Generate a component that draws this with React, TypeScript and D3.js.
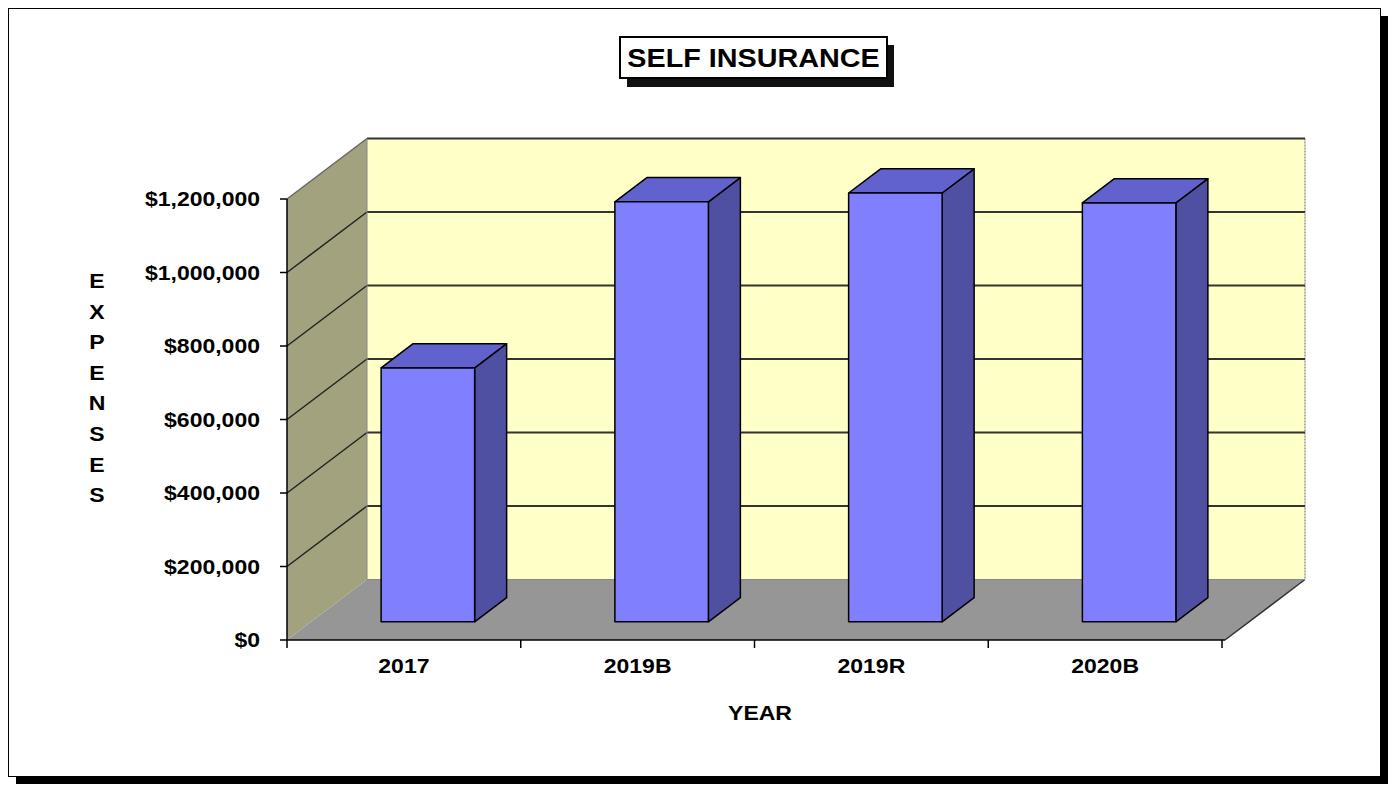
import React from "react";
import * as d3 from "d3";

const categories = ["2017", "2019B", "2019R", "2020B"];
const values = [691000, 1143000, 1167000, 1140000];
const yTicks = [0, 200000, 400000, 600000, 800000, 1000000, 1200000];
const title = "SELF INSURANCE";
const yTitle = "EXPENSES";
const xTitle = "YEAR";

const FONT = "'Liberation Sans', Arial, Helvetica, sans-serif";

function T({ x, y, anchor = "middle", size = 19.5, sx = 1.18, dy = "0", children }: any) {
  return (
    <text
      transform={`translate(${x},${y}) scale(${sx},1)`}
      dy={dy}
      textAnchor={anchor}
      fontFamily={FONT}
      fontWeight="bold"
      fontSize={size}
    >
      {children}
    </text>
  );
}

export default function App() {
  const left = 287;
  const right = 1222;
  const bottom = 640;
  const top = 199;
  const DX = 80;
  const DY = 60.5;
  const t0 = 0.3;
  const t1 = 0.7;

  const x = d3.scaleBand<string>().domain(categories).range([left, right]).paddingInner(0.6).paddingOuter(0.3);
  const y = d3.scaleLinear().domain([0, 1200000]).range([bottom, top]);
  const step = x.step();

  const fmt = (v: number) => "$" + d3.format(",")(v);
  const pts = (arr: [number, number][]) => arr.map((p) => p.join(",")).join(" ");

  const backX0 = left + DX;
  const backX1 = right + DX + 3;

  return (
    <div style={{ position: "absolute", left: 0, top: 0 }}>
      <svg width={1395} height={785} style={{ display: "block" }}>
        {/* frame */}
        <rect x={16} y={16} width={1372} height={768} fill="#000" />
        <rect x={8.5} y={8.5} width={1372} height={768} fill="#fff" stroke="#000" strokeWidth={1} />

        {/* title */}
        <rect x={627} y={45} width={267} height={42} fill="#111" />
        <rect x={620} y={37} width={267} height={41} fill="#fff" stroke="#000" strokeWidth={2} />
        <T x={753.5} y={67} size={25} sx={1.15}>{title}</T>

        {/* back wall */}
        <rect x={backX0} y={y(1200000) - DY} width={backX1 - backX0} height={y(0) - y(1200000)} fill="#FFFFC8" />
        <line x1={backX1} x2={backX1} y1={y(1200000) - DY} y2={y(0) - DY} stroke="#999" strokeWidth={1.5} strokeDasharray="2,1" />
        {/* left wall */}
        <polygon
          points={pts([
            [left, y(0)],
            [left, y(1200000)],
            [left + DX, y(1200000) - DY],
            [left + DX, y(0) - DY],
          ])}
          fill="#A2A27E"
        />
        <line x1={left} y1={y(1200000)} x2={left + DX} y2={y(1200000) - DY} stroke="#666" strokeWidth={1.5} />
        {/* floor */}
        <polygon
          points={pts([
            [left, y(0)],
            [right + 3, y(0)],
            [backX1, y(0) - DY],
            [backX0, y(0) - DY],
          ])}
          fill="#969696"
        />
        <line x1={right + 3} y1={y(0)} x2={backX1} y2={y(0) - DY} stroke="#333" strokeWidth={1.5} />
        <line x1={backX0} y1={y(0) - DY} x2={backX1} y2={y(0) - DY} stroke="#888" strokeWidth={1} />

        {/* gridlines */}
        {yTicks.filter((v) => v > 0).map((v) => (
          <g key={v}>
            <line x1={backX0} x2={backX1} y1={y(v) - DY} y2={y(v) - DY} stroke="#333" strokeWidth={2} />
            {v < 1200000 && (
              <line x1={left} y1={y(v)} x2={left + DX} y2={y(v) - DY} stroke="#222" strokeWidth={1.5} />
            )}
          </g>
        ))}
        <line x1={left + DX} x2={left + DX} y1={y(1200000) - DY} y2={y(0) - DY} stroke="#888" strokeWidth={1} />

        {/* bars */}
        {categories.map((c, i) => {
          const bx0 = x(c)!;
          const bx1 = bx0 + x.bandwidth();
          const fx = DX * t0, fy = -DY * t0;
          const bxo = DX * t1, byo = -DY * t1;
          const yb = y(0), yt = y(values[i]);
          return (
            <g key={c} stroke="#000" strokeWidth={1.5} strokeLinejoin="round">
              <polygon
                points={pts([
                  [bx1 + fx, yb + fy],
                  [bx1 + bxo, yb + byo],
                  [bx1 + bxo, yt + byo],
                  [bx1 + fx, yt + fy],
                ])}
                fill="#5050A2"
              />
              <polygon
                points={pts([
                  [bx0 + fx, yt + fy],
                  [bx1 + fx, yt + fy],
                  [bx1 + bxo, yt + byo],
                  [bx0 + bxo, yt + byo],
                ])}
                fill="#6262CE"
              />
              <rect x={bx0 + fx} y={yt + fy} width={bx1 - bx0} height={yb - yt} fill="#8080FF" />
            </g>
          );
        })}

        {/* y axis */}
        <line x1={left} x2={left} y1={y(1200000)} y2={y(0) + 1} stroke="#000" strokeWidth={1.5} />
        {yTicks.map((v) => (
          <g key={v}>
            <line x1={left - 7} x2={left} y1={y(v)} y2={y(v)} stroke="#000" strokeWidth={1.5} />
            <T x={260} y={y(v)} dy="0.36em" anchor="end">{fmt(v)}</T>
          </g>
        ))}

        {/* x axis */}
        <line x1={left} x2={right + 3} y1={y(0)} y2={y(0)} stroke="#000" strokeWidth={1.5} />
        {categories.map((c, i) => (
          <line key={"t" + c} x1={left + step * i} x2={left + step * i} y1={y(0)} y2={y(0) + 8} stroke="#000" strokeWidth={1.5} />
        ))}
        <line x1={left + step * categories.length} x2={left + step * categories.length} y1={y(0)} y2={y(0) + 8} stroke="#000" strokeWidth={1.5} />
        {categories.map((c) => (
          <T key={"l" + c} x={x(c)! + x.bandwidth() / 2} y={673}>{c}</T>
        ))}

        {/* axis titles */}
        <T x={760} y={720}>{xTitle}</T>
        {yTitle.split("").map((ch, i) => (
          <T key={i} x={97} y={281 + i * 30.6} dy="0.36em">{ch}</T>
        ))}
      </svg>
    </div>
  );
}
